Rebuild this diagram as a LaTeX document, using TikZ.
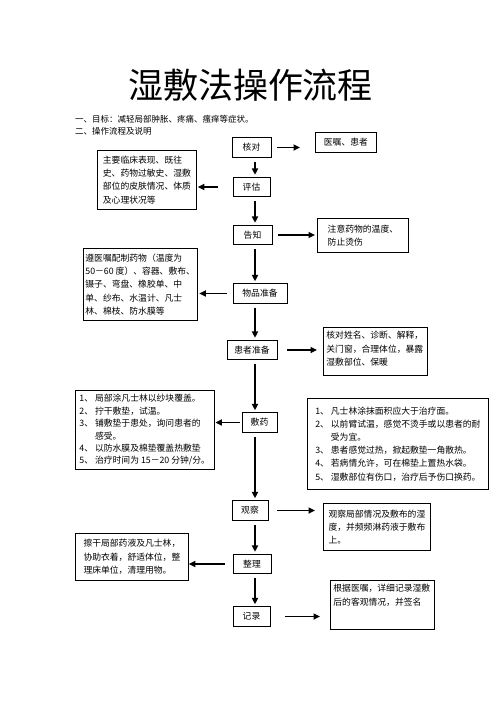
\documentclass[tikz,border=0pt]{standalone}
\usepackage{fontspec}
\setmainfont{Noto Sans CJK SC}
\usetikzlibrary{arrows.meta, positioning}

\begin{document}
\begin{tikzpicture}[
  x=1pt, y=1pt,
  stepbox/.style={rectangle, draw, line width=0.8pt, minimum height=19.5pt,
                  inner sep=2pt, font=\fontsize{8.8}{10}\selectfont},
  note/.style={rectangle, draw, line width=0.8pt, anchor=north west,
               align=left, inner sep=4pt,
               font=\fontsize{8.8}{13.2}\selectfont},
  topnote/.style={note, inner xsep=3pt, text height=7.5pt},
  plain/.style={anchor=west, inner sep=0pt, font=\fontsize{8.5}{10}\selectfont},
  arr/.style={-{Stealth[length=6.5pt, width=6pt, inset=0pt]}, line width=1.6pt}
]
\useasboundingbox (0,0) rectangle (496,-702);

% title and header lines
\node[font=\fontsize{35}{40}\selectfont] (title) at (250.5,-85) {湿敷法操作流程};
\node[plain] (goal) at (75,-119) {一、目标：减轻局部肿胀、疼痛、瘙痒等症状。};
\node[plain] (steps) at (75,-131) {二、操作流程及说明};

% main column
\foreach \n/\t/\x/\y/\w in {check/核对/251.5/-147.5/39, assess/评估/251.5/-187/37,
    notify/告知/252.5/-235/39, prep/物品准备/260/-293.5/54,
    patient/患者准备/252/-350/50, apply/敷药/259.5/-422.5/35,
    observe/观察/250/-510.5/36, tidy/整理/252/-564/38, record/记录/251.5/-616.5/37}{
  \node[stepbox, minimum width=\w pt] (\n) at (\x,\y) {\t};
}
\coordinate (spine) at (255,0);

% notes
\node[note, minimum width=61pt, minimum height=20pt] (doc) at (315,-132) {医嘱、患者};
\node[note, minimum width=99pt, minimum height=59pt] (history) at (97,-150)
  {主要临床表现、既往\\史、药物过敏史、湿敷\\部位的皮肤情况、体质\\及心理状况等};
\node[note, minimum width=91pt, minimum height=34pt] (heat) at (317,-218)
  {注意药物的温度、\\防止烫伤};
\node[note, inner xsep=2pt, minimum width=112pt, minimum height=72pt] (supplies) at (83,-248)
  {遵医嘱配制药物（温度为\\50－60 度）、容器、敷布、\\镊子、弯盘、橡胶单、中\\单、纱布、水温计、凡士\\林、棉枝、防水膜等};
\node[topnote, text width=98pt, text depth=32.5pt] (identity) at (323,-327)
  {核对姓名、诊断、解释，\\关门窗，合理体位，暴露\\湿敷部位、保暖};
\node[note, minimum width=137pt, minimum height=78pt,
      font=\fontsize{8.8}{12.4}\selectfont] (procedure) at (75,-390)
  {1、 局部涂凡士林以纱块覆盖。\\2、 拧干敷垫，试温。\\3、 铺敷垫于患处，询问患者的\\\phantom{3、 }感受。\\4、 以防水膜及棉垫覆盖热敷垫\\5、 治疗时间为 15－20 分钟/分。};
\node[note, minimum width=181pt, minimum height=91pt] (cautions) at (307,-398)
  {1、 凡士林涂抹面积应大于治疗面。\\2、 以前臂试温，感觉不烫手或以患者的耐\\\phantom{2、 }受为宜。\\3、 患者感觉过热，掀起敷垫一角散热。\\4、 若病情允许，可在棉垫上置热水袋。\\5、 湿敷部位有伤口，治疗后予伤口换药。};
\node[note, minimum width=107pt, minimum height=47pt] (watch) at (323,-503)
  {观察局部情况及敷布的湿\\度，并频频淋药液于敷布\\上。};
\node[note, minimum width=113pt, minimum height=47pt] (cleanup) at (75,-533)
  {擦干局部药液及凡士林，\\协助衣着，舒适体位，整\\理床单位，清理用物。};
\node[topnote, text width=98pt, text depth=33.5pt] (sign) at (330,-580)
  {根据医嘱，详细记录湿敷\\后的客观情况，并签名};

% arrows
\foreach \a/\b in {check/assess, assess/notify, notify/prep, prep/patient,
    patient/apply, apply/observe, observe/tidy, tidy/record}{
  \draw[arr, shorten <=4pt, shorten >=2pt] (\a.south -| spine) -- (\b.north -| spine);
}
\foreach \a/\b/\s/\e in {check/doc/6/15, notify/heat/6/2, patient/identity/10/6,
    observe/watch/9/8, record/sign/15/10}{
  \draw[arr, shorten <=\s pt, shorten >=\e pt] (\a) -- (\b.west |- \a);
}
\foreach \a/\b/\s/\e in {assess/history/15/1, prep/supplies/6/2,
    apply/procedure/2/1, tidy/cleanup/8/0}{
  \draw[arr, shorten <=\s pt, shorten >=\e pt] (\a) -- (\b.east |- \a);
}
\end{tikzpicture}
\end{document}
